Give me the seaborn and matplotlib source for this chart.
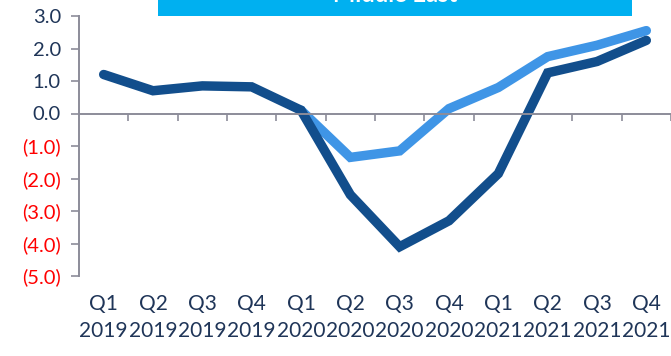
import matplotlib
matplotlib.use("Agg")
import matplotlib.pyplot as plt
import matplotlib.patches as mpatches
import matplotlib.transforms as mtransforms
import numpy as np
import pandas as pd
import seaborn as sns

quarters = ["Q1", "Q2", "Q3", "Q4"] * 3
years = ["2019"] * 4 + ["2020"] * 4 + ["2021"] * 4
actual = [1.2, 0.7, 0.85, 0.82, 0.1, -2.5, -4.1, -3.3, -1.85, 1.25, 1.6, 2.25]
revised = [np.nan, np.nan, np.nan, np.nan, 0.1, -1.35, -1.15, 0.15, 0.8, 1.75, 2.1, 2.55]
y_ticks = [3.0, 2.0, 1.0, 0.0, -1.0, -2.0, -3.0, -4.0, -5.0]
title = "Middle East"

dark = "#124E8C"
light = "#3F95E6"
navy = "#1F3558"

sns.set_theme(style="white")
plt.rcParams["font.family"] = ["Lato", "DejaVu Sans"]

idx = list(range(len(quarters)))
df = pd.DataFrame({
    "idx": idx * 2,
    "value": revised + actual,
    "series": ["revised"] * len(idx) + ["actual"] * len(idx),
})

fig = plt.figure(figsize=(6.71, 3.56), dpi=100)
ax = fig.add_axes([79 / 671, 1 - 276 / 356, 592 / 671, 260 / 356])

sns.lineplot(data=df, x="idx", y="value", hue="series",
             palette={"revised": light, "actual": dark},
             linewidth=6.8, legend=False, ax=ax, sort=False)
for ln in ax.lines:
    ln.set_solid_capstyle("round")
    ln.set_solid_joinstyle("miter")

ax.set_xlim(-0.5, len(idx) - 0.5)
ax.set_ylim(-5, 3)
ax.set_xlabel("")
ax.set_ylabel("")

# y axis
ax.set_yticks(y_ticks)
ax.set_yticklabels([f"{v:.1f}" if v >= 0 else f"({abs(v):.1f})" for v in y_ticks])
for lab, v in zip(ax.get_yticklabels(), y_ticks):
    lab.set_color(navy if v >= 0 else "#FF0000")
    lab.set_fontsize(14.5)
ax.tick_params(axis="y", which="major", left=True, length=6, width=1.2,
               color="#8C8C99", pad=7)

# spines
for s in ["top", "right"]:
    ax.spines[s].set_visible(False)
ax.spines["left"].set_color("#8C8C99")
ax.spines["left"].set_linewidth(1.4)
ax.spines["bottom"].set_position(("data", 0))
ax.spines["bottom"].set_color("#8C8C99")
ax.spines["bottom"].set_linewidth(1.4)
ax.set_zorder(1)

# x axis: boundary ticks on the zero line, category labels below the plot
ax.set_xticks(idx)
ax.set_xticklabels([])
ax.tick_params(axis="x", which="major", bottom=False, length=0)
ax.set_xticks([i + 0.5 for i in idx], minor=True)
ax.tick_params(axis="x", which="minor", bottom=True, length=5, width=1.2,
               color="#8C8C99", direction="out")

trans = mtransforms.blended_transform_factory(ax.transData, fig.transFigure)
for i, (q, y) in enumerate(zip(quarters, years)):
    ax.text(i, 1 - 304 / 356, q, transform=trans, ha="center", va="center",
            fontsize=15, color=navy, clip_on=False)
    ax.text(i, 1 - 331 / 356, y, transform=trans, ha="center", va="center",
            fontsize=15, color=navy, clip_on=False)

# title banner
fig.patches.append(mpatches.Rectangle((158 / 671, 1 - 18 / 356), 474 / 671, 18 / 356,
                                      transform=fig.transFigure, facecolor="#00B0F0",
                                      edgecolor="none", zorder=0))
fig.text(395 / 671, 1 - 2 / 356, title, ha="center", va="baseline",
         fontsize=17, fontweight="bold", color="white")

fig.savefig("out.png", dpi=100)
